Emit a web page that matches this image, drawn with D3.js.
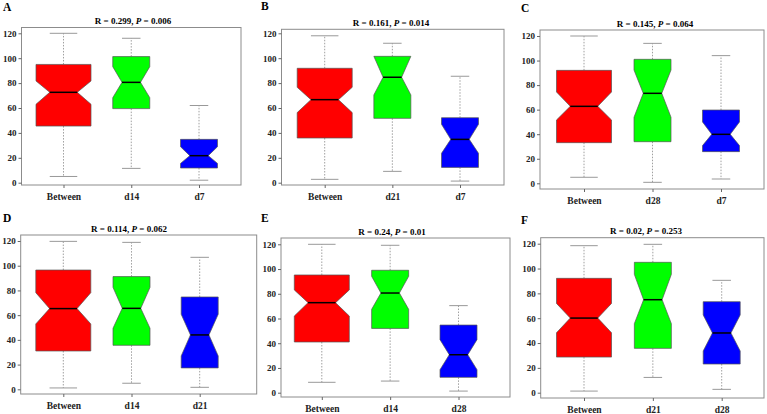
<!DOCTYPE html>
<html>
<head>
<meta charset="utf-8">
<script src="https://cdn.jsdelivr.net/npm/d3@7"></script>
<style>
  body { margin: 0; background: #fff; }
  text { font-family: "Liberation Serif", "Times New Roman", serif; font-weight: bold; }
</style>
</head>
<body>
<div id="chart"></div>
<script>
// tick labels shared by every panel
const yTicks = [0, 20, 40, 60, 80, 100, 120];

// panel A
const groupsA = ["Between", "d14", "d7"];
const lowA    = [5, 11.5, 2];
const q1A     = [45.5, 59.5, 11.8];
const notchLoA = [63, 68.3, 15.5];
const medA    = [72.6, 80.6, 21.7];
const notchHiA = [81.7, 93.2, 28.9];
const q3A     = [95, 101.3, 34.8];
const highA   = [120, 116, 62];

// panel B
const groupsB = ["Between", "d21", "d7"];
const lowB    = [2.7, 9.1, 1.3];
const q1B     = [35.9, 51.7, 12.3];
const notchLoB = [56.3, 70.5, 23.6];
const medB    = [66.7, 84.7, 34.8];
const notchHiB = [76.6, 101.5, 46.9];
const q3B     = [91.9, 101.5, 52.2];
const highB   = [118, 112, 85.5];

// panel C
const groupsC = ["Between", "d28", "d7"];
const lowC    = [4.9, 0.8, 3.5];
const q1C     = [33.1, 33.9, 25.8];
const notchLoC = [51.6, 53.8, 30.7];
const medC    = [62.7, 73.3, 39.9];
const notchHiC = [74.4, 92.3, 50];
const q3C     = [92, 101, 59.7];
const highC   = [120, 114, 104];

// panel D
const groupsD = ["Between", "d14", "d21"];
const lowD    = [1.1, 4.9, 1.6];
const q1D     = [31, 35.6, 17.3];
const notchLoD = [52.9, 49.4, 27];
const medD    = [65.3, 65.5, 44];
const notchHiD = [78.2, 82.5, 60.7];
const q3D     = [96.5, 91.2, 74.7];
const highD   = [119.7, 118.9, 106.8];

// panel E
const groupsE = ["Between", "d14", "d28"];
const lowE    = [8.4, 9.4, 1.3];
const q1E     = [41, 52, 12.4];
const notchLoE = [62, 67.4, 18.6];
const medE    = [72.8, 80.6, 30.7];
const notchHiE = [83.1, 94.1, 42.9];
const q3E     = [95.2, 99, 54.7];
const highE   = [120, 119.2, 70.4];

// panel F
const groupsF = ["Between", "d21", "d28"];
const lowF    = [1.3, 12.3, 2.7];
const q1F     = [28.7, 35.7, 23.1];
const notchLoF = [48.3, 55.6, 33.6];
const medF    = [60.1, 74.9, 48.1];
const notchHiF = [71.9, 95.3, 62.6];
const q3F     = [92.1, 105, 73.3];
const highF   = [118.4, 119.5, 90.5];

const rValues = ["0.299", "0.161", "0.145", "0.114", "0.24", "0.02"];
const pValues = ["0.006", "0.014", "0.064", "0.062", "0.01", "0.253"];
const letters = ["A", "B", "C", "D", "E", "F"];
const colors = ["#ff0000", "#00ff00", "#0000ff"];

const stats = [
  [groupsA, lowA, q1A, notchLoA, medA, notchHiA, q3A, highA],
  [groupsB, lowB, q1B, notchLoB, medB, notchHiB, q3B, highB],
  [groupsC, lowC, q1C, notchLoC, medC, notchHiC, q3C, highC],
  [groupsD, lowD, q1D, notchLoD, medD, notchHiD, q3D, highD],
  [groupsE, lowE, q1E, notchLoE, medE, notchHiE, q3E, highE],
  [groupsF, lowF, q1F, notchLoF, medF, notchHiF, q3F, highF]
];

// where each panel sits (pixels)
const layout = [
  { frame: [21.5, 27.5, 241, 185], cx: [63.5, 199], y0: 182.7, y120: 33.3, letter: [3, 11], tx: 133 },
  { frame: [281.5, 29.3, 504, 185], cx: [324.7, 460], y0: 182.7, y120: 33.3, letter: [261, 10], tx: 391 },
  { frame: [540, 30, 764, 189], cx: [584, 721], y0: 183.3, y120: 36, letter: [521, 12], tx: 655 },
  { frame: [20.7, 235, 256.7, 394], cx: [63.3, 199.7], y0: 389.3, y120: 241, letter: [3, 222], tx: 129 },
  { frame: [281, 238, 510, 397], cx: [321.8, 458.5], y0: 392.7, y120: 244.3, letter: [261, 222], tx: 392 },
  { frame: [540.7, 237.7, 764, 398], cx: [584, 721.7], y0: 392.7, y120: 243.7, letter: [521, 224], tx: 646 }
];
const boxW = [55, 37, 37];

const svg = d3.select("#chart").append("svg")
  .attr("width", 767)
  .attr("height", 414);

stats.forEach((s, p) => {
  const [groups, low, q1, nLo, med, nHi, q3, high] = s;
  const L = layout[p];
  const [fx0, fy0, fx1, fy1] = L.frame;

  const x = d3.scalePoint().domain(groups).range(L.cx);
  const y = d3.scaleLinear().domain([0, 120]).range([L.y0, L.y120]);

  const g = svg.append("g");

  // letter
  g.append("text")
    .attr("x", L.letter[0])
    .attr("y", L.letter[1])
    .attr("font-size", 11.5)
    .text(letters[p]);

  // title
  const title = g.append("text")
    .attr("x", L.tx)
    .attr("y", fy0 - 3.5)
    .attr("text-anchor", "middle")
    .attr("font-size", 9);
  title.append("tspan").text(`R = ${rValues[p]}, `);
  title.append("tspan").attr("font-style", "italic").text("P");
  title.append("tspan").text(` = ${pValues[p]}`);

  // frame
  g.append("rect")
    .attr("x", fx0).attr("y", fy0)
    .attr("width", fx1 - fx0).attr("height", fy1 - fy0)
    .attr("fill", "none")
    .attr("stroke", "#8c8c8c")
    .attr("stroke-width", 1);

  // y axis
  const ya = g.append("g")
    .attr("transform", `translate(${fx0},0)`)
    .call(d3.axisLeft(y).tickValues(yTicks).tickSize(3).tickPadding(2));
  ya.select(".domain").remove();
  ya.selectAll("line").attr("stroke", "#666");
  ya.selectAll("text").attr("font-size", 9).attr("fill", "#222")
    .attr("font-family", "Liberation Serif, serif");

  // x axis
  const xa = g.append("g")
    .attr("transform", `translate(0,${fy1})`)
    .call(d3.axisBottom(x).tickSize(3).tickPadding(5));
  xa.select(".domain").remove();
  xa.selectAll("line").attr("stroke", "#666");
  xa.selectAll("text").attr("font-size", 9.5).attr("fill", "#222")
    .attr("font-family", "Liberation Serif, serif");

  groups.forEach((grp, i) => {
    const cx = x(grp);
    const hw = boxW[i] / 2;
    const hn = hw / 2;

    // whiskers
    [[q3[i], high[i]], [q1[i], low[i]]].forEach(([a, b]) => {
      g.append("line")
        .attr("x1", cx).attr("x2", cx)
        .attr("y1", y(a)).attr("y2", y(b))
        .attr("stroke", "#888")
        .attr("stroke-width", 0.8)
        .attr("stroke-dasharray", "1.5,1.5");
      g.append("line")
        .attr("x1", cx - hn).attr("x2", cx + hn)
        .attr("y1", y(b)).attr("y2", y(b))
        .attr("stroke", "#999")
        .attr("stroke-width", 1);
    });

    // notched box
    const pts = [
      [cx - hw, y(q3[i])], [cx - hw, y(nHi[i])], [cx - hn, y(med[i])],
      [cx - hw, y(nLo[i])], [cx - hw, y(q1[i])], [cx + hw, y(q1[i])],
      [cx + hw, y(nLo[i])], [cx + hn, y(med[i])], [cx + hw, y(nHi[i])],
      [cx + hw, y(q3[i])]
    ];
    g.append("path")
      .attr("d", d3.line()(pts) + "Z")
      .attr("fill", colors[i])
      .attr("stroke", "#555")
      .attr("stroke-width", 0.7);

    // median
    g.append("line")
      .attr("x1", cx - hn).attr("x2", cx + hn)
      .attr("y1", y(med[i])).attr("y2", y(med[i]))
      .attr("stroke", "#000")
      .attr("stroke-width", 1.5);
  });
});
</script>
</body>
</html>
